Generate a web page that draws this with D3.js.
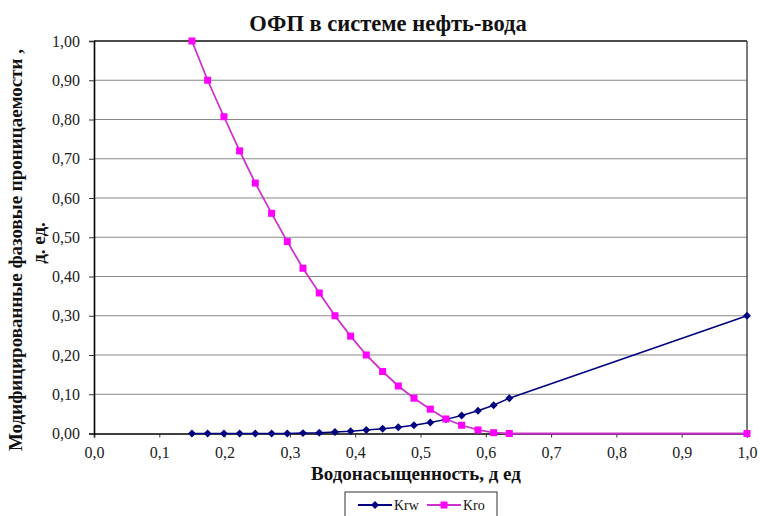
<!DOCTYPE html>
<html>
<head>
<meta charset="utf-8">
<script src="https://cdn.jsdelivr.net/npm/d3@7"></script>
<style>
  body { margin: 0; background: #fff; }
</style>
</head>
<body>
<div class="chart"></div>
<script>
// water saturation, д ед
const sw = [0.150, 0.174, 0.199, 0.223, 0.247, 0.272, 0.296, 0.320, 0.345, 0.369, 0.393,
  0.417, 0.442, 0.466, 0.490, 0.515, 0.539, 0.563, 0.588, 0.612, 0.636, 1.0];
const krw = [0, 0, 0, 0, 0, 0, 0.000, 0.001, 0.002, 0.004, 0.006,
  0.009, 0.012, 0.016, 0.021, 0.028, 0.036, 0.046, 0.058, 0.072, 0.090, 0.30];
const kro = [1.0, 0.90, 0.807, 0.72, 0.638, 0.561, 0.489, 0.421, 0.358, 0.30, 0.248,
  0.20, 0.158, 0.121, 0.090, 0.062, 0.037, 0.021, 0.009, 0.002, 0.0, 0.0];
const xTicks = [0, 0.1, 0.2, 0.3, 0.4, 0.5, 0.6, 0.7, 0.8, 0.9, 1.0];
const yTicks = [0, 0.1, 0.2, 0.3, 0.4, 0.5, 0.6, 0.7, 0.8, 0.9, 1.0];

const width = 760, height = 516;
const pLeft = 94, pRight = 747, pTop = 41, pBottom = 433.5;
const serif = "'Liberation Serif', 'Times New Roman', 'DejaVu Serif', serif";

const svg = d3.select('.chart')
  .append('svg')
    .attr('width', width)
    .attr('height', height)
    .style('font-family', serif);

const x = d3.scaleLinear().domain([0, 1]).range([pLeft, pRight]);
const y = d3.scaleLinear().domain([0, 1]).range([pBottom, pTop]);
const fmtX = d => d.toFixed(1).replace('.', ',');
const fmtY = d => d.toFixed(2).replace('.', ',');

// gridlines
svg.append('g')
  .selectAll('line')
  .data(yTicks.slice(1, -1))
  .enter().append('line')
    .attr('x1', pLeft).attr('x2', pRight)
    .attr('y1', d => y(d)).attr('y2', d => y(d))
    .attr('stroke', '#888').attr('stroke-width', 1.2);

// frame top / right
svg.append('line')
  .attr('x1', pLeft).attr('x2', pRight).attr('y1', pTop).attr('y2', pTop)
  .attr('stroke', '#111').attr('stroke-width', 1.6);
svg.append('line')
  .attr('x1', pRight).attr('x2', pRight).attr('y1', pTop).attr('y2', pBottom)
  .attr('stroke', '#444').attr('stroke-width', 1.4);

const xAxis = d3.axisBottom(x).tickValues(xTicks).tickFormat(fmtX).tickSize(4).tickPadding(9);
const yAxis = d3.axisLeft(y).tickValues(yTicks).tickFormat(fmtY).tickSize(5).tickPadding(9);

const gx = svg.append('g')
  .attr('transform', `translate(0, ${pBottom})`)
  .call(xAxis);
const gy = svg.append('g')
  .attr('transform', `translate(${pLeft}, 0)`)
  .call(yAxis);

[gx, gy].forEach(g => {
  g.attr('font-family', null).attr('font-size', null);
  g.select('.domain').attr('stroke', '#000').attr('stroke-width', 1.6);
  g.selectAll('.tick line').attr('stroke', '#333');
  g.selectAll('.tick text')
    .style('font-family', serif)
    .style('font-size', '16px')
    .attr('fill', '#222');
});

// series
const line = d3.line().x(d => x(d[0])).y(d => y(d[1]));
const krwPts = sw.map((s, i) => [s, krw[i]]);
const kroPts = sw.map((s, i) => [s, kro[i]]);

svg.append('path')
  .datum(krwPts)
  .attr('d', line)
  .attr('fill', 'none')
  .attr('stroke', '#000080')
  .attr('stroke-width', 1.5);

svg.append('path')
  .datum(kroPts)
  .attr('d', line)
  .attr('fill', 'none')
  .attr('stroke', '#cc33cc')
  .attr('stroke-width', 1.8);

const diamond = d3.symbol().type(d3.symbolDiamond2).size(40);
svg.append('g')
  .selectAll('path')
  .data(krwPts)
  .enter().append('path')
    .attr('d', diamond)
    .attr('transform', d => `translate(${x(d[0])}, ${y(d[1])})`)
    .attr('fill', '#000080');

svg.append('g')
  .selectAll('rect')
  .data(kroPts)
  .enter().append('rect')
    .attr('x', d => x(d[0]) - 3.5)
    .attr('y', d => y(d[1]) - 3.5)
    .attr('width', 7).attr('height', 7)
    .attr('fill', '#ff00ff');

// titles
svg.append('text')
  .text('ОФП в системе нефть-вода')
  .attr('x', 388).attr('y', 31)
  .attr('text-anchor', 'middle')
  .attr('font-weight', 'bold')
  .style('font-size', '22.5px')
  .attr('fill', '#111');

svg.append('text')
  .text('Водонасыщенность, д ед')
  .attr('x', 416).attr('y', 480)
  .attr('text-anchor', 'middle')
  .attr('font-weight', 'bold')
  .style('font-size', '19px')
  .attr('fill', '#111');

{
  let cx = 22, cy = 250;
  svg.append('text')
    .text('Модифицированные фазовые проницаемости ,')
    .attr('x', cx).attr('y', cy)
    .attr('text-anchor', 'middle')
    .attr('font-weight', 'bold')
    .style('font-size', '19px')
    .attr('fill', '#111')
    .attr('transform', `rotate(270 ${cx} ${cy})`);
  cx = 45; cy = 243;
  svg.append('text')
    .text('д. ед.')
    .attr('x', cx).attr('y', cy)
    .attr('text-anchor', 'middle')
    .attr('font-weight', 'bold')
    .style('font-size', '19px')
    .attr('fill', '#111')
    .attr('transform', `rotate(270 ${cx} ${cy})`);
}

// legend
const lg = svg.append('g').attr('transform', 'translate(345, 492)');
lg.append('rect')
  .attr('width', 152).attr('height', 30)
  .attr('fill', '#fff').attr('stroke', '#333').attr('stroke-width', 1);

const legendItems = [
  { name: 'Krw', color: '#000080', x0: 13 },
  { name: 'Kro', color: '#ff00ff', x0: 82 },
];
legendItems.forEach((d, i) => {
  lg.append('line')
    .attr('x1', d.x0).attr('x2', d.x0 + 34).attr('y1', 13).attr('y2', 13)
    .attr('stroke', i === 0 ? '#000080' : '#cc33cc').attr('stroke-width', 1.8);
  if (i === 0) {
    lg.append('path').attr('d', diamond)
      .attr('transform', `translate(${d.x0 + 17}, 13)`).attr('fill', d.color);
  } else {
    lg.append('rect').attr('x', d.x0 + 13.5).attr('y', 9.5)
      .attr('width', 7).attr('height', 7).attr('fill', d.color);
  }
  lg.append('text')
    .text(d.name)
    .attr('x', d.x0 + 36).attr('y', 18)
    .style('font-size', '14px')
    .attr('fill', '#111');
});
</script>
</body>
</html>
